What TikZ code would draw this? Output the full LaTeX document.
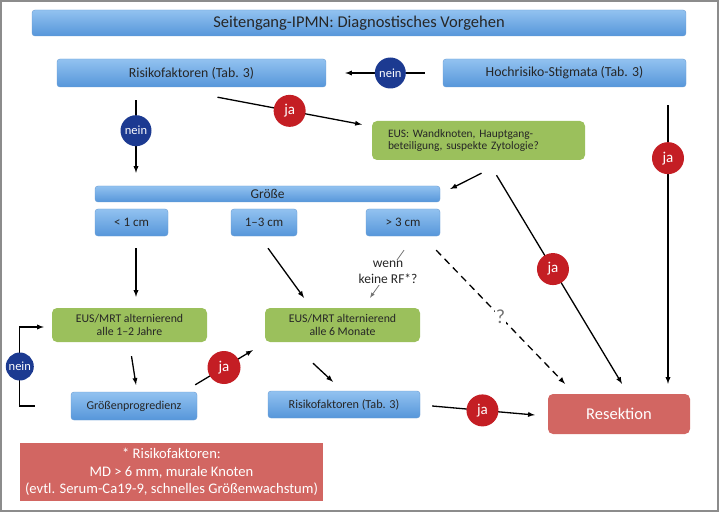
\documentclass[tikz,border=0pt]{standalone}
\usepackage{fontspec}
\setmainfont{Carlito}
\usepackage{tikz}
\usetikzlibrary{arrows,shapes,positioning,shadows}

\definecolor{bluetop}{RGB}{146,194,240}
\definecolor{bluebot}{RGB}{86,150,218}
\definecolor{blueedge}{RGB}{105,155,210}
\definecolor{boxgreen}{RGB}{155,192,92}
\definecolor{boxred}{RGB}{210,102,98}
\definecolor{circblue}{RGB}{28,58,145}
\definecolor{circred}{RGB}{196,30,36}

\begin{document}
\begin{tikzpicture}
    [
    x=1pt, y=-1pt,
    bluebox/.style = {draw=blueedge, rectangle, rounded corners=3pt, top color=bluetop, bottom color=bluebot, text=black!85, inner sep=0pt},
    greenbox/.style = {rectangle, rounded corners=5pt, fill=boxgreen, text=black!85, inner sep=0pt},
    redbox/.style = {rectangle, fill=boxred, text=white, inner sep=0pt},
    neinc/.style = {circle, fill=circblue, text=white, minimum size=31pt, inner sep=0pt, font=\fontsize{12.5}{14}\selectfont},
    jac/.style = {circle, fill=circred, text=white, minimum size=32pt, inner sep=0pt, font=\fontsize{15}{17}\selectfont},
    arrow/.style = {-latex, line width=1.3pt},
    ]

    \useasboundingbox (0,0) rectangle (720,513);
    \draw[black!45, line width=1.5pt] (1,1) rectangle (718,511);

% Nodes
    \node[bluebox, minimum width=654pt, minimum height=26pt, font=\fontsize{16.5}{19}\selectfont] (title) at (359,23) {Seitengang-IPMN: Diagnostisches Vorgehen};
    \node[bluebox, minimum width=269pt, minimum height=28pt, font=\fontsize{13.8}{16}\selectfont] (risk1) at (191.5,73) {Risikofaktoren (Tab. 3)};
    \node[bluebox, minimum width=243pt, minimum height=28pt, font=\fontsize{13.8}{16}\selectfont] (hoch) at (564.5,73) {Hochrisiko-Stigmata (Tab. 3)};
    \node[greenbox, minimum width=213pt, minimum height=39pt, text width=181pt, align=left, font=\fontsize{11.4}{12}\selectfont] (eus) at (478.5,140.5) {EUS: Wandknoten, Hauptgang-\\beteiligung, suspekte Zytologie?};

    \node[bluebox, minimum width=345pt, minimum height=16pt, font=\fontsize{13.5}{15}\selectfont] (groesse) at (267.5,194) {Größe};
    \node[bluebox, minimum width=73pt, minimum height=27pt, font=\fontsize{13}{15}\selectfont] (small) at (131.5,222.5) {< 1 cm};
    \node[bluebox, minimum width=66pt, minimum height=27pt, font=\fontsize{13}{15}\selectfont] (medium) at (264,222.5) {1–3 cm};
    \node[bluebox, minimum width=74pt, minimum height=27pt, font=\fontsize{13}{15}\selectfont] (large) at (403,222.5) {> 3 cm};

    \node[greenbox, minimum width=155pt, minimum height=34pt, align=center, font=\fontsize{11.8}{12.5}\selectfont] (eusyear) at (129.5,325) {EUS/MRT alternierend\\alle 1–2 Jahre};
    \node[greenbox, minimum width=155pt, minimum height=34pt, align=center, font=\fontsize{11.8}{12.5}\selectfont] (eusmonth) at (342.5,325) {EUS/MRT alternierend\\alle 6 Monate};
    \node[bluebox, minimum width=126pt, minimum height=28pt, font=\fontsize{12}{14}\selectfont] (prog) at (134,406) {Größenprogredienz};
    \node[bluebox, minimum width=152pt, minimum height=27pt, font=\fontsize{12.2}{14}\selectfont] (risk2) at (344,404.5) {Risikofaktoren (Tab. 3)};
    \node[redbox, rounded corners=5pt, minimum width=142pt, minimum height=40pt, font=\fontsize{16.5}{19}\selectfont] (res) at (619,414) {Resektion};
    \node[redbox, minimum width=303pt, minimum height=58pt, align=center, font=\fontsize{14.6}{17.5}\selectfont] (foot) at (171.5,472) {* Risikofaktoren:\\MD > 6 mm, murale Knoten\\(evtl. Serum-Ca19-9, schnelles Größenwachstum)};

% Arrows
    \draw[arrow, shorten <=18pt, shorten >=19pt] (hoch) -- node[pos=0.45, neinc] (nein1) {nein} (risk1);
    \draw[arrow] ([shift={(26,10)}]risk1.south) -- node[pos=0.5, jac] (ja1) {ja} ([shift={(-10,-16)}]eus.west);
    \draw[arrow] ([shift={(-55.5,13)}]risk1.south) -- node[pos=0.42, neinc] (nein2) {nein} ([shift={(-131.5,-13)}]groesse.north);
    \draw[arrow] ([shift={(103.5,18)}]hoch.south) -- node[pos=0.19, jac] (ja2) {ja} ([shift={(49,-10)}]res.north);
    \draw[arrow] ([shift={(3,13)}]eus.south) -- ([shift={(10,-5)}]groesse.east);
    \draw[arrow] ([shift={(18,15)}]eus.south) -- node[pos=0.45, jac] (ja3) {ja} ([shift={(3,-10)}]res.north);

    \draw[arrow] ([shift={(4.5,12)}]small.south) -- ([shift={(6.5,-11)}]eusyear.north);
    \draw[arrow] ([shift={(4,12)}]medium.south) -- ([shift={(-38.5,-10)}]eusmonth.north);
    \draw[-latex, line width=0.8pt, black!55] ([shift={(1,14)}]large.south) -- node[pos=0.47, fill=white, inner sep=1pt, align=center, text=black!85, font=\fontsize{13.5}{16}\selectfont] (wenn) {wenn\\keine RF*?} ([shift={(27.5,-10)}]eusmonth.north);
    \draw[arrow, dashed, dash pattern=on 7pt off 5pt] ([shift={(-4,14)}]large.south east) -- node[pos=0.5, fill=white, inner sep=1pt, text=black!55, font=\fontsize{20}{22}\selectfont] (qmark) {?} ([shift={(-54,-10)}]res.north);

    \draw[arrow] ([shift={(2,14)}]eusyear.south) -- ([shift={(2,-7)}]prog.north);
    \draw[arrow] ([shift={(-2,-7)}]prog.north east) -- node[pos=0.5, jac, minimum size=33pt] (ja4) {ja} ([shift={(-12,8)}]eusmonth.south west);
    \draw[arrow] ([shift={(-29.5,21)}]eusmonth.south) -- ([shift={(-11,-9)}]risk2.north);
    \draw[arrow] ([shift={(12,1.5)}]risk2.east) -- node[pos=0.49, jac] (ja5) {ja} ([shift={(-13,1)}]res.west);
    \draw[arrow] ([shift={(-36,0)}]prog.west) -- ++(-15,0) |- node[pos=0.25, neinc, minimum size=28pt] (nein3) {nein} ([shift={(-8,2)}]eusyear.west);

\end{tikzpicture}
\end{document}
